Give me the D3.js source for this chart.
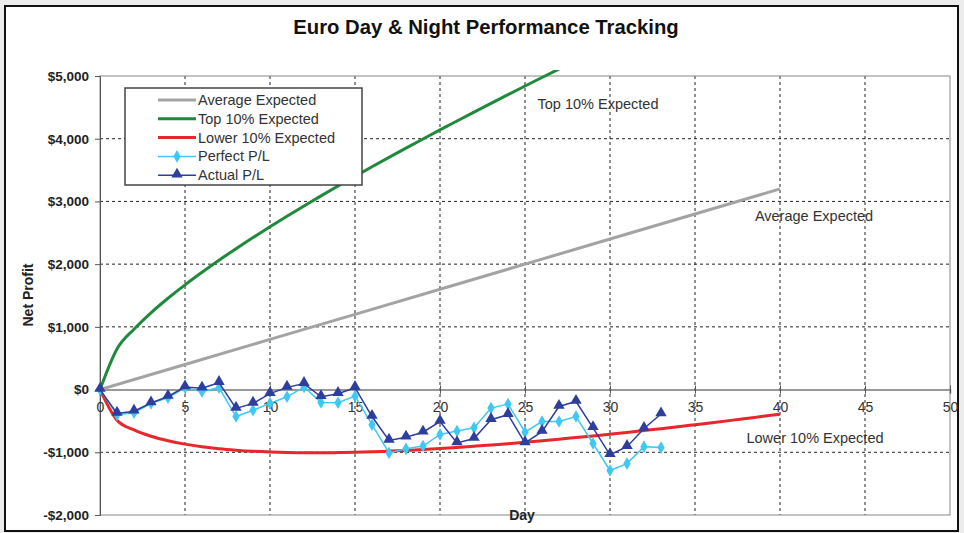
<!DOCTYPE html>
<html><head><meta charset="utf-8">
<script src="https://cdn.jsdelivr.net/npm/d3@7"></script>
<style>
html,body{margin:0;padding:0;background:#fff;}
svg{display:block;font-family:"Liberation Sans",Arial,sans-serif;}
</style></head>
<body><svg id="chart" width="964" height="533"></svg>
<script>
// ---- data ----
const plDays = d3.range(0, 34);
const actualPL = [0,-380,-345,-215,-110,40,20,110,-300,-220,-65,35,95,-115,-65,30,-430,-810,-760,-680,-510,-850,-780,-480,-400,-850,-670,-270,-190,-610,-1040,-910,-620,-390];
const perfectPL = [0,-400,-370,-220,-130,30,-30,30,-430,-330,-220,-115,40,-205,-210,-105,-560,-1010,-945,-900,-715,-660,-610,-295,-230,-680,-510,-510,-430,-860,-1290,-1180,-910,-925];
const avgDays = [0,5,10,15,20,25,30,35,40];
const avgExpected = [0,400,800,1200,1600,2000,2400,2800,3200];
const topDays = d3.range(0, 28);
const topExpected = [0,648,963,1224,1456,1670,1871,2063,2246,2424,2596,2764,2928,3088,3245,3400,3552,3702,3850,3996,4140,4283,4424,4564,4703,4840,4976,5111];
const lowDays = d3.range(0, 41);
const lowExpected = [0,-488,-643,-744,-816,-870,-911,-943,-966,-984,-996,-1004,-1008,-1008,-1005,-1000,-992,-982,-970,-956,-940,-923,-904,-884,-863,-840,-816,-791,-766,-739,-711,-683,-653,-623,-592,-560,-528,-495,-461,-427,-393];
const xTicks = [0,5,10,15,20,25,30,35,40,45,50];
const yTicks = [-2000,-1000,0,1000,2000,3000,4000,5000];
const legendItems = ["Average Expected","Top 10% Expected","Lower 10% Expected","Perfect P/L","Actual P/L"];

const C = {avg:"#a3a3a3", top:"#1f8a3c", low:"#e8262b", perf:"#3ec8f2", act:"#2e3e9c"};

const svg = d3.select("#chart");
const L=100,R=950,T=76,B=515;
const x = d3.scaleLinear().domain([0,50]).range([L,R]);
const y = d3.scaleLinear().domain([-2000,5000]).range([B,T]);

// outer frame
svg.append("rect").attr("x",0).attr("y",0).attr("width",964).attr("height",533).attr("fill","#ececec");
svg.append("rect").attr("x",5).attr("y",6).attr("width",953).attr("height",525).attr("fill","#fff").attr("stroke","#111").attr("stroke-width",2);

// title
svg.append("text").attr("x",486).attr("y",34).attr("text-anchor","middle")
  .attr("font-size",20.3).attr("font-weight","bold").attr("fill","#111")
  .text("Euro Day & Night Performance Tracking");

const g = svg.append("g");
// grid
g.selectAll(".vg").data(xTicks.filter(d=>d>0&&d<50)).join("line")
  .attr("x1",d=>x(d)).attr("x2",d=>x(d)).attr("y1",T).attr("y2",B)
  .attr("stroke","#222").attr("stroke-width",1).attr("stroke-dasharray","3,3");
g.selectAll(".hg").data(yTicks.filter(d=>d!==0&&d>-2000&&d<5000)).join("line")
  .attr("x1",L).attr("x2",R).attr("y1",d=>y(d)).attr("y2",d=>y(d))
  .attr("stroke","#222").attr("stroke-width",1).attr("stroke-dasharray","3,3");

// plot border
g.append("rect").attr("x",L).attr("y",T).attr("width",R-L).attr("height",B-T)
  .attr("fill","none").attr("stroke","#888").attr("stroke-width",1);
// left axis
const yAxis = d3.axisLeft(y).tickValues(yTicks).tickSize(5).tickPadding(6)
  .tickFormat(d=> (d<0?"-$":"$")+d3.format(",")(Math.abs(d)));
const ya = svg.append("g").attr("transform",`translate(${L},0)`).call(yAxis);
ya.select(".domain").attr("stroke","#555");
ya.selectAll(".tick line").attr("stroke","#555");
ya.selectAll("text").attr("font-size",13.5).attr("font-weight","bold").attr("fill","#222")
  .attr("font-family","'Liberation Sans',Arial,sans-serif");

// zero line / x axis
const xAxis = d3.axisBottom(x).tickValues(xTicks).tickSize(4).tickPadding(8);
const xa = svg.append("g").attr("transform",`translate(0,${y(0)})`).call(xAxis);
xa.select(".domain").attr("stroke","#777").attr("stroke-width",1.5);
xa.selectAll(".tick line").attr("stroke","#555").attr("y1",-4);
xa.selectAll("text").attr("font-size",14).attr("fill","#333")
  .attr("font-family","'Liberation Sans',Arial,sans-serif");

// axis titles
svg.append("text").attr("transform",`translate(33,295) rotate(-90)`).attr("text-anchor","middle")
  .attr("font-size",14).attr("font-weight","bold").attr("fill","#222").text("Net Profit");
svg.append("text").attr("x",522).attr("y",520).attr("text-anchor","middle")
  .attr("font-size",14).attr("font-weight","bold").attr("fill","#222").text("Day");

// clip
svg.append("clipPath").attr("id","clip").append("rect").attr("x",L).attr("y",T-6).attr("width",R-L).attr("height",B-T+6);

const line = d3.line().x(d=>x(d[0])).y(d=>y(d[1]));
const lines = svg.append("g").attr("clip-path","url(#clip)");
lines.append("path").datum(avgDays.map((d,i)=>[d,avgExpected[i]])).attr("d",line)
  .attr("fill","none").attr("stroke",C.avg).attr("stroke-width",3);
lines.append("path").datum(lowDays.map((d,i)=>[d,lowExpected[i]])).attr("d",line.curve(d3.curveMonotoneX))
  .attr("fill","none").attr("stroke",C.low).attr("stroke-width",3);
lines.append("path").datum(topDays.map((d,i)=>[d,topExpected[i]])).attr("d",line.curve(d3.curveMonotoneX))
  .attr("fill","none").attr("stroke",C.top).attr("stroke-width",3);
line.curve(d3.curveLinear);

const diamond = d3.symbol().type(d3.symbolDiamond).size(46);
const tri = d3.symbol().type(d3.symbolTriangle).size(56);

const perfData = plDays.map((d,i)=>[d,perfectPL[i]]);
const actData = plDays.map((d,i)=>[d,actualPL[i]]);
svg.append("path").datum(perfData).attr("d",line).attr("fill","none").attr("stroke",C.perf).attr("stroke-width",1.5);
svg.selectAll(".pm").data(perfData).join("path").attr("d",diamond)
  .attr("transform",d=>`translate(${x(d[0])},${y(d[1])})`).attr("fill",C.perf);
svg.append("path").datum(actData).attr("d",line).attr("fill","none").attr("stroke",C.act).attr("stroke-width",1.5);
svg.selectAll(".am").data(actData).join("path").attr("d",tri)
  .attr("transform",d=>`translate(${x(d[0])},${y(d[1])-1})`).attr("fill",C.act);

// legend
const lg = svg.append("g");
lg.append("rect").attr("x",125).attr("y",88).attr("width",237).attr("height",97)
  .attr("fill","#fff").attr("stroke","#444").attr("stroke-width",1.5);
const lcol = [C.avg,C.top,C.low,C.perf,C.act];
legendItems.forEach((t,i)=>{
  const yy = 100 + i*18.8;
  lg.append("line").attr("x1",158).attr("x2",196).attr("y1",yy).attr("y2",yy)
    .attr("stroke",lcol[i]).attr("stroke-width",i<3?3:1.5);
  if(i===3) lg.append("path").attr("d",diamond).attr("transform",`translate(177,${yy})`).attr("fill",lcol[i]);
  if(i===4) lg.append("path").attr("d",tri).attr("transform",`translate(177,${yy-1})`).attr("fill",lcol[i]);
  lg.append("text").attr("x",198).attr("y",yy+5).attr("font-size",14.5).attr("fill","#333").text(t);
});

// annotations
const ann = [["Top 10% Expected",598,109],["Average Expected",814,221],["Lower 10% Expected",815,443]];
ann.forEach(a=>svg.append("text").attr("x",a[1]).attr("y",a[2]).attr("text-anchor","middle")
  .attr("font-size",14.5).attr("fill","#333").text(a[0]));
</script></body></html>
